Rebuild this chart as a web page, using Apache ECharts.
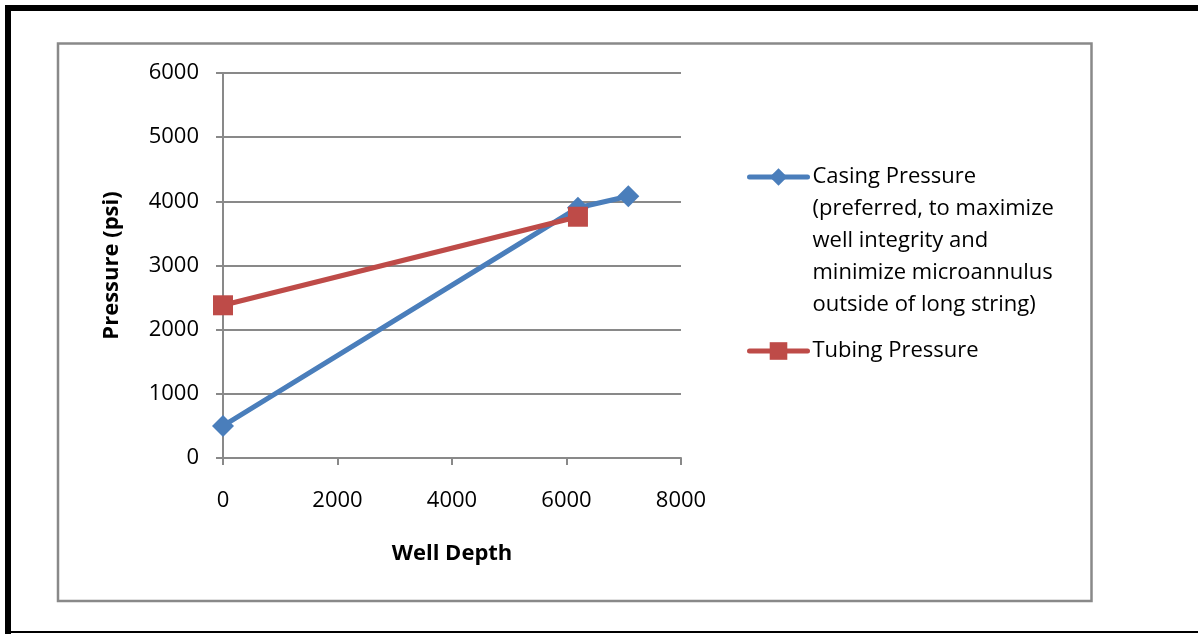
<!DOCTYPE html>
<html>
<head>
<meta charset="utf-8">
<script src="https://cdn.jsdelivr.net/npm/echarts@6/dist/echarts.min.js"></script>
<style>
html,body{margin:0;padding:0;background:#fff;}
#chart{width:1198px;height:634px;}
</style>
</head>
<body>
<div id="chart"></div>
<script>
var casingName = 'Casing Pressure\n(preferred, to maximize\nwell integrity and\nminimize microannulus\noutside of long string)';
var tubingName = 'Tubing Pressure';
var casingDepth = [0, 6200, 7080];
var casingPressure = [500, 3900, 4080];
var tubingDepth = [0, 6200];
var tubingPressure = [2380, 3760];

function pairs(xs, ys){
	var out = [];
	for (var i = 0; i < xs.length; i++) out.push([xs[i], ys[i]]);
	return out;
}
function plain(v){ return String(v); } // no thousands separator

var chart = echarts.init(document.getElementById('chart'));
var font = '"Open Sans", "DejaVu Sans", sans-serif';
var axisGray = '#898989';

chart.setOption({
	animation: false,
	textStyle: {fontFamily: font},
	graphic: [
		// outer black frame
		{type: 'rect', shape: {x: 5, y: 5, width: 1193, height: 6}, style: {fill: '#000'}},
		{type: 'rect', shape: {x: 5, y: 5, width: 6, height: 629}, style: {fill: '#000'}},
		{type: 'rect', shape: {x: 5, y: 631, width: 1193, height: 2}, style: {fill: '#000'}},
		// chart area border
		{type: 'rect', shape: {x: 58, y: 43.5, width: 1033.5, height: 557.5}, style: {fill: 'none', stroke: axisGray, lineWidth: 2.5}}
	],
	grid: {left: 223, right: 517, top: 73, bottom: 176},
	legend: {
		orient: 'vertical',
		left: 742,
		top: 28,
		itemWidth: 58,
		itemHeight: 22,
		itemGap: 14,
		lineStyle: {width: 5, cap: 'round'},
		textStyle: {fontSize: 22, color: '#000', lineHeight: 32, fontFamily: font},
		// blank lines on top keep the icon level with the first text line
		formatter: function(name){
			return name === casingName ? '\n\n\n\n' + name : name;
		},
		data: [casingName, tubingName]
	},
	xAxis: {
		type: 'value',
		min: 0, max: 8000, interval: 2000,
		name: 'Well Depth',
		nameLocation: 'middle',
		nameGap: 85,
		nameTextStyle: {fontSize: 22, fontWeight: 'bold', color: '#000'},
		axisLine: {show: true, onZero: false, lineStyle: {color: axisGray, width: 2}},
		axisTick: {show: true, length: 7, lineStyle: {color: axisGray, width: 2}},
		axisLabel: {fontSize: 22, color: '#000', margin: 32, formatter: plain},
		splitLine: {show: false}
	},
	yAxis: {
		type: 'value',
		min: 0, max: 6000, interval: 1000,
		name: 'Pressure (psi)',
		nameLocation: 'middle',
		nameGap: 100,
		nameTextStyle: {fontSize: 22, fontWeight: 'bold', color: '#000'},
		axisLine: {show: true, lineStyle: {color: axisGray, width: 2}},
		axisTick: {show: true, length: 7, lineStyle: {color: axisGray, width: 2}},
		axisLabel: {fontSize: 22, color: '#000', margin: 24, formatter: plain},
		splitLine: {show: true, lineStyle: {color: axisGray, width: 2}}
	},
	series: [
		{
			name: casingName,
			type: 'line',
			data: pairs(casingDepth, casingPressure),
			symbol: 'diamond',
			symbolSize: 22,
			color: '#4a7ebb',
			lineStyle: {width: 5, color: '#4a7ebb'},
			itemStyle: {color: '#4a7ebb'}
		},
		{
			name: tubingName,
			type: 'line',
			data: pairs(tubingDepth, tubingPressure),
			symbol: 'rect',
			symbolSize: 20,
			color: '#be4b48',
			lineStyle: {width: 5, color: '#be4b48'},
			itemStyle: {color: '#be4b48'}
		}
	]
});
</script>
</body>
</html>
